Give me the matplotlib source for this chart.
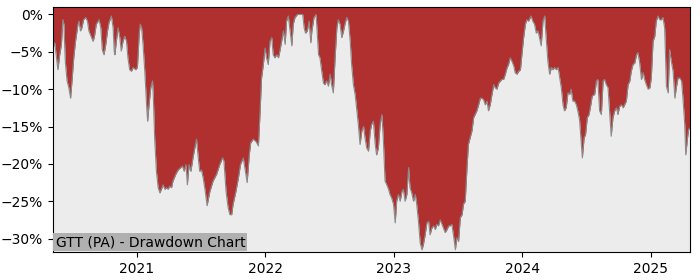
import numpy as np
import pandas as pd
import matplotlib
matplotlib.use("Agg")
import matplotlib.pyplot as plt
import matplotlib.dates as mdates
from matplotlib.ticker import FuncFormatter

# drawdown readings (percent), one pair of lists per calendar year
dates_2020 = ["2020-05-07", "2020-05-12", "2020-05-16", "2020-05-21", "2020-05-26", "2020-05-31",
              "2020-06-04", "2020-06-07", "2020-06-11", "2020-06-16", "2020-06-21", "2020-06-26", "2020-06-30",
              "2020-07-05", "2020-07-10", "2020-07-17", "2020-07-20", "2020-07-24", "2020-07-28",
              "2020-08-02", "2020-08-08", "2020-08-13", "2020-08-17", "2020-08-23", "2020-08-29",
              "2020-09-02", "2020-09-07", "2020-09-15", "2020-09-20", "2020-09-24", "2020-09-29",
              "2020-10-04", "2020-10-09", "2020-10-13", "2020-10-20", "2020-10-25", "2020-10-28", "2020-10-30",
              "2020-11-03", "2020-11-08", "2020-11-13", "2020-11-17", "2020-11-22", "2020-11-27",
              "2020-12-02", "2020-12-06", "2020-12-11", "2020-12-16", "2020-12-21", "2020-12-28"]
dd_2020 = [-4.5, -3.8, -5.4, -7.4, -5.4, -4.0,
           -0.7, -1.3, -6.3, -8.9, -9.8, -11.2, -8.9,
           -5.8, -3.6, -1.3, -0.9, -2.2, -1.8,
           -0.7, -0.4, -0.9, -2.2, -2.9, -3.6,
           -2.9, -1.3, -0.7, -1.8, -4.7, -5.4,
           -4.0, -2.2, -1.1, -0.2, -1.8, -4.9, -5.4,
           -3.6, -1.8, -3.1, -4.9, -3.6, -2.9,
           -3.6, -5.8, -7.4, -7.6, -7.1, -7.4]

dates_2021 = ["2021-01-02", "2021-01-07", "2021-01-10", "2021-01-14", "2021-01-18", "2021-01-23", "2021-01-28", "2021-01-31",
              "2021-02-04", "2021-02-09", "2021-02-14", "2021-02-16", "2021-02-20", "2021-02-25",
              "2021-03-02", "2021-03-07", "2021-03-11", "2021-03-16", "2021-03-21", "2021-03-26", "2021-03-30",
              "2021-04-04", "2021-04-09", "2021-04-13", "2021-04-21", "2021-04-28",
              "2021-05-05", "2021-05-10", "2021-05-15", "2021-05-20", "2021-05-24", "2021-05-29",
              "2021-06-03", "2021-06-09", "2021-06-14", "2021-06-19", "2021-06-24", "2021-06-28",
              "2021-07-03", "2021-07-08", "2021-07-14", "2021-07-19", "2021-07-27",
              "2021-08-05", "2021-08-15", "2021-08-24",
              "2021-09-01", "2021-09-05", "2021-09-11", "2021-09-17", "2021-09-22", "2021-09-27",
              "2021-10-01", "2021-10-09", "2021-10-16", "2021-10-22", "2021-10-30",
              "2021-11-05", "2021-11-10", "2021-11-16", "2021-11-20", "2021-11-27",
              "2021-12-05", "2021-12-12", "2021-12-16", "2021-12-21", "2021-12-26", "2021-12-31"]
dd_2021 = [-7.1, -2.7, -1.3, -1.8, -4.0, -7.6, -12.1, -14.3,
           -12.1, -9.8, -8.9, -10.7, -16.5, -21.0,
           -23.2, -23.9, -23.4, -22.8, -23.4, -23.2, -23.4,
           -23.0, -23.2, -22.3, -21.4, -20.8,
           -20.5, -20.3, -21.0, -20.1, -22.8, -20.1,
           -21.0, -19.2, -17.9, -16.7, -19.2, -21.0,
           -20.8, -21.9, -23.7, -25.6, -23.7,
           -22.3, -21.4, -20.1,
           -19.2, -19.6, -23.7, -25.9, -26.8, -26.8,
           -25.4, -23.7, -21.9, -20.1, -19.2,
           -21.0, -22.5, -18.8, -17.2, -16.7,
           -17.0, -17.6, -13.8, -8.5, -6.7, -4.5]

dates_2022 = ["2022-01-04", "2022-01-09", "2022-01-14", "2022-01-19", "2022-01-23", "2022-01-28",
              "2022-02-02", "2022-02-07", "2022-02-11", "2022-02-16", "2022-02-21", "2022-02-26",
              "2022-03-02", "2022-03-07", "2022-03-12", "2022-03-17", "2022-03-21", "2022-03-26",
              "2022-04-02", "2022-04-09", "2022-04-17", "2022-04-21", "2022-04-25", "2022-04-30",
              "2022-05-05", "2022-05-10", "2022-05-13", "2022-05-19", "2022-05-25", "2022-05-29",
              "2022-06-01", "2022-06-05", "2022-06-10", "2022-06-15", "2022-06-19", "2022-06-24", "2022-06-29",
              "2022-07-04", "2022-07-08", "2022-07-13", "2022-07-18", "2022-07-23", "2022-07-27",
              "2022-08-01", "2022-08-06", "2022-08-11", "2022-08-15", "2022-08-20", "2022-08-25", "2022-08-30",
              "2022-09-03", "2022-09-08", "2022-09-13", "2022-09-18", "2022-09-22", "2022-09-27",
              "2022-10-02", "2022-10-07", "2022-10-11", "2022-10-16", "2022-10-21", "2022-10-26", "2022-10-30",
              "2022-11-04", "2022-11-09", "2022-11-13", "2022-11-18", "2022-11-23", "2022-11-28",
              "2022-12-02", "2022-12-07", "2022-12-12", "2022-12-17", "2022-12-21", "2022-12-26", "2022-12-31"]
dd_2022 = [-5.8, -6.7, -3.6, -3.1, -5.4, -5.8,
           -5.4, -5.8, -4.9, -3.6, -2.2, -4.0,
           -0.9, -0.2, -2.2, -4.2, -1.3, -0.4,
           0.0, 0.0, 0.0, -1.8, -2.5, -2.2,
           -0.9, -3.8, -2.2, -0.4, 0.0, -3.1,
           -5.4, -5.8, -7.6, -9.2, -9.4, -8.9, -9.6,
           -8.0, -9.4, -10.5, -5.8, -1.8, -0.7,
           -1.3, -3.1, -2.2, -1.3, -0.4, -0.9, -3.6,
           -6.7, -9.4, -10.7, -12.9, -14.7, -17.4,
           -15.6, -15.0, -16.5, -17.9, -18.3, -15.6, -14.7,
           -14.3, -17.4, -18.8, -17.9, -14.7, -13.4,
           -16.5, -22.3, -22.8, -23.4, -24.1, -24.6, -25.4]

dates_2023 = ["2023-01-05", "2023-01-09", "2023-01-14", "2023-01-19", "2023-01-24", "2023-01-28",
              "2023-02-02", "2023-02-07", "2023-02-12", "2023-02-16", "2023-02-21", "2023-02-26",
              "2023-03-03", "2023-03-07", "2023-03-12", "2023-03-17", "2023-03-22", "2023-03-26", "2023-03-31",
              "2023-04-05", "2023-04-10", "2023-04-14", "2023-04-19", "2023-04-24", "2023-04-29",
              "2023-05-03", "2023-05-08", "2023-05-13", "2023-05-18", "2023-05-22", "2023-05-27",
              "2023-06-01", "2023-06-06", "2023-06-10", "2023-06-15", "2023-06-20", "2023-06-25", "2023-06-29",
              "2023-07-04", "2023-07-09", "2023-07-14", "2023-07-18", "2023-07-23", "2023-07-28",
              "2023-08-01", "2023-08-06", "2023-08-11", "2023-08-16", "2023-08-20", "2023-08-25", "2023-08-30",
              "2023-09-04", "2023-09-08", "2023-09-13", "2023-09-18", "2023-09-23", "2023-09-27",
              "2023-10-02", "2023-10-07", "2023-10-12", "2023-10-16", "2023-10-21", "2023-10-26", "2023-10-31",
              "2023-11-04", "2023-11-09", "2023-11-14", "2023-11-19", "2023-11-23", "2023-11-28",
              "2023-12-03", "2023-12-08", "2023-12-12", "2023-12-17", "2023-12-22", "2023-12-27", "2023-12-31"]
dd_2023 = [-27.9, -25.0, -24.1, -25.0, -23.7, -23.4,
           -25.0, -24.1, -20.5, -23.2, -23.9, -25.0,
           -24.1, -25.4, -27.7, -30.6, -31.5, -30.8, -29.5,
           -27.9, -27.7, -29.5, -28.6, -28.3, -28.8,
           -28.1, -28.3, -27.5, -28.1, -28.6, -29.2,
           -28.8, -28.3, -28.3, -28.1, -29.7, -31.5, -29.9,
           -30.4, -27.2, -26.8, -25.4, -25.0, -20.5,
           -17.4, -16.5, -15.6, -13.8, -13.4, -12.9, -12.1,
           -11.2, -11.2, -11.4, -12.1, -11.6, -12.9,
           -12.1, -10.7, -9.4, -9.8, -10.0, -9.2, -8.9,
           -8.7, -8.7, -8.0, -7.1, -6.7, -5.8,
           -6.3, -6.9, -7.8, -8.0, -7.6, -7.4, -5.4]

dates_2024 = ["2024-01-05", "2024-01-10", "2024-01-14", "2024-01-19", "2024-01-26", "2024-01-31",
              "2024-02-05", "2024-02-10", "2024-02-15", "2024-02-19", "2024-02-24", "2024-02-29",
              "2024-03-05", "2024-03-09", "2024-03-14", "2024-03-19", "2024-03-24", "2024-03-28",
              "2024-04-02", "2024-04-07", "2024-04-12", "2024-04-16", "2024-04-21", "2024-04-26", "2024-04-30",
              "2024-05-05", "2024-05-10", "2024-05-15", "2024-05-19", "2024-05-24", "2024-05-29",
              "2024-06-03", "2024-06-07", "2024-06-12", "2024-06-17", "2024-06-20", "2024-06-25", "2024-06-29",
              "2024-07-04", "2024-07-09", "2024-07-14", "2024-07-18", "2024-07-25", "2024-07-30",
              "2024-08-03", "2024-08-08", "2024-08-13", "2024-08-18", "2024-08-22", "2024-08-27",
              "2024-09-01", "2024-09-06", "2024-09-10", "2024-09-15", "2024-09-20", "2024-09-25", "2024-09-29",
              "2024-10-04", "2024-10-09", "2024-10-14", "2024-10-18", "2024-10-23", "2024-10-28",
              "2024-11-02", "2024-11-06", "2024-11-11", "2024-11-16", "2024-11-21", "2024-11-25", "2024-11-30",
              "2024-12-05", "2024-12-10", "2024-12-14", "2024-12-19", "2024-12-24", "2024-12-29"]
dd_2024 = [-3.1, -1.3, -0.7, -0.9, -0.2, -0.9,
           -1.3, -2.5, -2.2, -3.1, -4.2, -0.9,
           -0.2, -3.1, -6.3, -8.0, -7.1, -7.4,
           -7.1, -7.4, -7.1, -8.3, -9.8, -12.1, -12.9,
           -12.5, -10.5, -10.7, -10.0, -11.6, -11.6,
           -12.1, -12.9, -14.1, -17.4, -19.2, -16.5, -16.1,
           -13.8, -13.4, -12.1, -10.9, -10.7, -8.9,
           -8.7, -12.9, -13.4, -8.9, -8.7, -9.4,
           -9.8, -13.4, -16.3, -13.8, -12.9, -12.5, -13.4,
           -12.3, -12.1, -12.5, -12.1, -11.6, -9.4,
           -8.9, -7.6, -6.7, -6.5, -5.4, -5.1, -6.5,
           -8.7, -7.8, -8.7, -9.4, -10.0, -9.8]

dates_2025 = ["2025-01-02", "2025-01-07", "2025-01-12", "2025-01-16", "2025-01-21", "2025-01-26", "2025-01-31",
              "2025-02-04", "2025-02-09", "2025-02-14", "2025-02-19", "2025-02-23", "2025-02-28",
              "2025-03-05", "2025-03-10", "2025-03-14", "2025-03-19", "2025-03-24", "2025-03-29",
              "2025-04-02", "2025-04-07", "2025-04-10", "2025-04-15", "2025-04-18", "2025-04-22"]
dd_2025 = [-8.5, -3.6, -2.9, -0.9, -0.2, -0.7, -0.7,
           -0.4, -1.8, -9.6, -10.5, -4.7, -6.3,
           -7.6, -11.2, -9.8, -8.5, -8.5, -8.9,
           -11.2, -14.7, -18.8, -16.5, -15.4, -15.2]

title = "GTT (PA) - Drawdown Chart"

dates = pd.to_datetime(dates_2020 + dates_2021 + dates_2022 + dates_2023 + dates_2024 + dates_2025)
dd = np.array(dd_2020 + dd_2021 + dd_2022 + dd_2023 + dd_2024 + dd_2025)

y_top = 1.0
y_bottom = -31.8

fig = plt.figure(figsize=(7, 2.8), dpi=100)
ax = fig.add_axes([0.0757, 0.1, 0.91, 0.875])
ax.set_facecolor("#ececec")

# red area runs from the drawdown line all the way up to the top of the axes
ax.fill_between(dates, dd, y_top, color="#b03030", linewidth=0)
ax.plot(dates, dd, color="#8a8a8a", linewidth=0.8)

ax.set_xlim(dates[0], dates[-1])
ax.set_ylim(y_bottom, y_top)
ax.set_yticks([0, -5, -10, -15, -20, -25, -30])
ax.yaxis.set_major_formatter(FuncFormatter(lambda v, _: f"{v:.0f}%".replace("-", "\u2212")))
ax.xaxis.set_major_locator(mdates.YearLocator())
ax.xaxis.set_major_formatter(mdates.DateFormatter("%Y"))

ax.text(0.004, 0.012, title, transform=ax.transAxes, fontsize=10, va="bottom", ha="left",
        bbox=dict(boxstyle="square,pad=0.15", facecolor="#b0b0b0", edgecolor="none"))

fig.savefig("out.png", dpi=100)
